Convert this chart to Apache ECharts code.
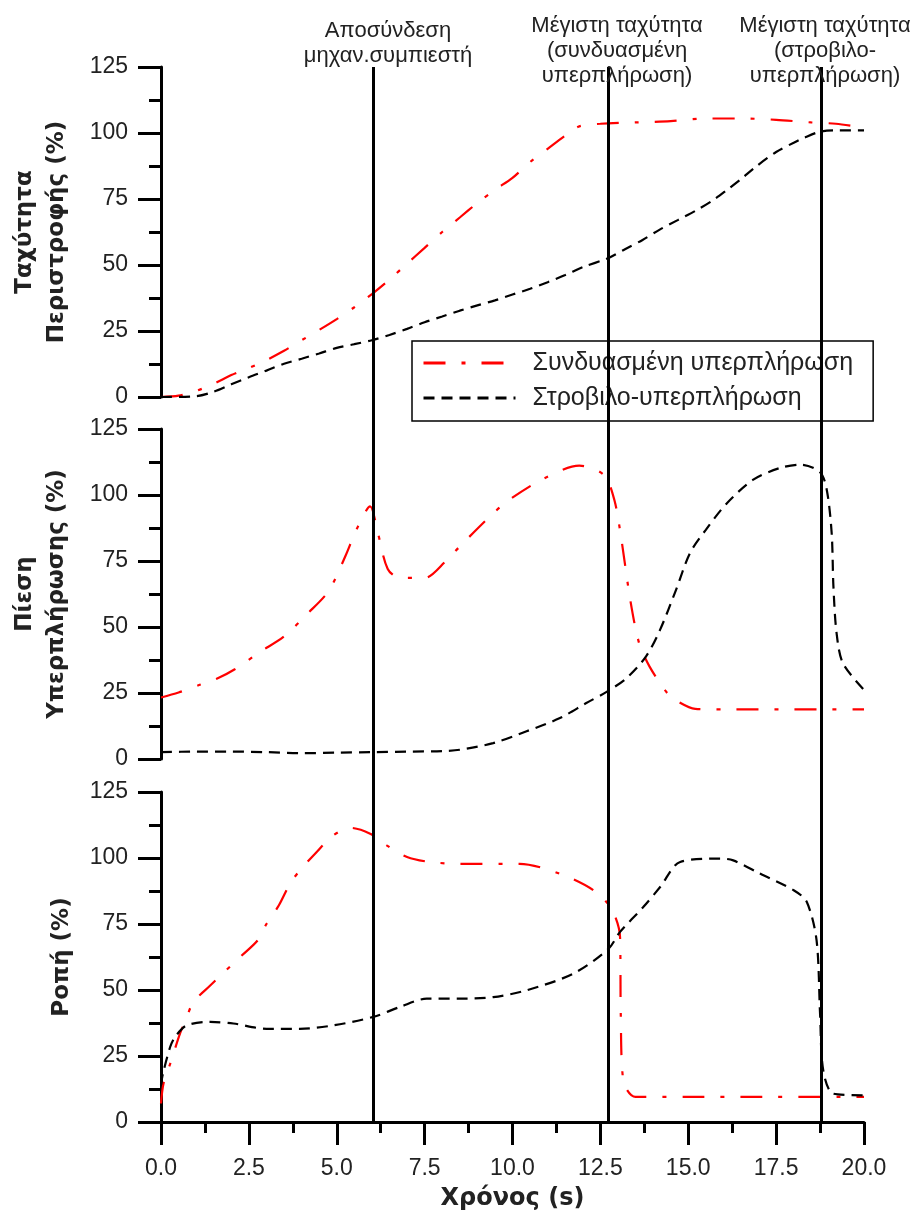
<!DOCTYPE html>
<html>
<head>
<meta charset="utf-8">
<script src="https://cdn.jsdelivr.net/npm/echarts@6/dist/echarts.min.js"></script>
<style>html,body{margin:0;padding:0;background:#fff;}#c{width:918px;height:1214px;}</style>
</head>
<body>
<div id="c"></div>
<script>
// ---- data (time in s, value in %) ----
const xTicks = [0, 2.5, 5, 7.5, 10, 12.5, 15, 17.5, 20];
const yTicks = [0, 25, 50, 75, 100, 125];
const seriesNames = ['Συνδυασμένη υπερπλήρωση', 'Στροβιλο-υπερπλήρωση'];
const panelTitles = ['Ταχύτητα\nΠεριστροφής (%)', 'Πίεση\nΥπερπλήρωσης (%)', 'Ροπή (%)'];
const xTitle = 'Χρόνος (s)';
const eventTimes = [6.03, 12.72, 18.77];
const eventLabels = ['Αποσύνδεση\nμηχαν.συμπιεστή', 'Μέγιστη ταχύτητα\n(συνδυασμένη\nυπερπλήρωση)', 'Μέγιστη ταχύτητα\n(στροβιλο-\nυπερπλήρωση)'];

const speedCombined = [[0,0],[0.5,0.5],[1,2.3],[1.5,5],[2,8.3],[2.5,11],[3,14],[3.5,17.5],[4,21.5],[4.5,25.4],[5,29.5],[5.5,34],[6,39],[6.5,44.5],[7,50.5],[7.5,56.5],[8,62.5],[8.5,68],[9,73.5],[9.5,78.5],[10,83],[10.5,89],[11,94],[11.5,99],[11.9,102.5],[12.5,103.5],[13.5,104],[14.5,104.5],[15.5,105.5],[16.5,105.5],[17.5,105],[18.5,104],[19.2,103.5],[20,102]];
const speedTurbo = [[0,0],[1,0.3],[1.5,2],[2,4.8],[2.5,7.5],[3,10],[3.5,12.6],[4,14.5],[4.5,16.5],[5,18.6],[5.5,20],[6,21.5],[6.5,23.5],[7,25.8],[7.5,28.3],[8,30.5],[8.5,32.7],[9,34.7],[9.5,36.6],[10,38.8],[10.5,41],[11,43.5],[11.5,46.2],[12,49.2],[12.7,52.5],[13.2,56],[13.7,59.5],[14.2,63.5],[14.7,67],[15.2,70.5],[15.7,74.5],[16.1,78.4],[16.5,82.5],[16.9,87],[17.5,92.8],[18,96.3],[18.3,98.2],[18.75,100.5],[19.2,101],[20,101]];

const pressureCombined = [[0,23.3],[0.5,25.2],[1.1,28.1],[1.6,30.5],[2.1,34],[2.8,40.4],[3.5,46.4],[4.2,55.5],[4.65,61.6],[4.9,66.7],[5.25,77],[5.6,88],[5.95,95.7],[6.15,86.8],[6.45,72],[6.8,68.6],[7.5,68.6],[8.1,74.9],[8.5,80.5],[9.4,92.4],[9.9,98.1],[10.9,106.3],[11.9,111.1],[12.6,107.6],[12.9,98],[13.1,83],[13.35,60.3],[13.6,44],[13.9,35],[14.4,25],[14.7,21.8],[15.2,19],[16,18.8],[17,18.8],[18,18.8],[19,18.8],[20,18.8]];
const pressureTurbo = [[0,2.6],[1,2.8],[2,2.8],[3,2.6],[3.95,2.2],[5,2.4],[6,2.6],[7,2.8],[8,3],[8.5,3.5],[9.45,6],[10.4,10.5],[11.35,15.5],[12.1,21.2],[12.7,25.6],[13.25,30.7],[13.8,38.9],[14.2,49],[14.65,64],[15.05,78],[15.5,86.8],[16.1,96.9],[16.85,105.8],[17.6,110.2],[18.2,111.5],[18.75,108.6],[18.94,102],[19.08,85.6],[19.13,65.4],[19.22,47.7],[19.4,36.3],[20,26.2]];

const torqueCombined = [[0,7],[0.07,14.5],[0.26,22],[0.54,33.5],[0.7,38.5],[0.92,45.4],[1.4,51.7],[1.8,56.8],[2.25,62.5],[2.75,68.8],[3.0,75],[3.35,82],[3.67,90.3],[3.95,95.3],[4.43,102.3],[4.9,108.6],[5.4,111.4],[5.95,109.2],[6.42,104.8],[7,100.4],[7.65,98.5],[8.5,97.8],[10.2,97.8],[11.35,94],[12.3,87.8],[12.82,80.7],[13.06,70],[13.08,41],[13.15,15.8],[13.5,9.5],[15,9.5],[17,9.5],[20,9.5]];
const torqueTurbo = [[0,14],[0.05,18],[0.26,28.4],[0.4,32.2],[0.73,36.6],[1.4,37.9],[2.06,37.3],[3,35.3],[3.95,35.3],[4.9,36.6],[6.04,39.8],[6.8,43.6],[7.56,46.7],[8.5,46.7],[9.45,47.3],[10.4,49.9],[11.73,56.2],[12.73,65.6],[13.06,72],[13.72,81.4],[14.2,89],[14.77,98.5],[15.9,99.8],[16.28,99.1],[17.04,94.1],[18,87.8],[18.37,83.4],[18.65,68.9],[18.75,41],[18.84,19.6],[19.13,10.7],[20,10.1]];

// ---- chart ----
const FONT = '"Liberation Sans", Arial, sans-serif';
const BOLD = '"DejaVu Sans", "Liberation Sans", sans-serif';
const TXT = '#222';
const chart = echarts.init(document.getElementById('c'), null, {renderer: 'canvas'});

const grids = [
  {left: 161, top: 67, width: 703, height: 330},
  {left: 161, top: 429, width: 703, height: 330},
  {left: 161, top: 792, width: 703, height: 330},
  {left: 161, top: 67, width: 703, height: 1055}
];

const xMin = xTicks[0], xMax = xTicks[xTicks.length - 1], xStep = xTicks[1] - xTicks[0];
const yMin = yTicks[0], yMax = yTicks[yTicks.length - 1], yStep = yTicks[1] - yTicks[0];

const xAxes = [0, 1, 2, 3].map(i => {
  const shown = i === 2;
  return {
    gridIndex: i, type: 'value', min: xMin, max: xMax, interval: xStep,
    show: i !== 3,
    axisLine: {show: shown, onZero: false, lineStyle: {color: '#000', width: 3}},
    axisTick: {show: shown, length: 23, inside: false, lineStyle: {color: '#000', width: 3}},
    minorTick: {show: shown, splitNumber: 2, length: 11, lineStyle: {color: '#000', width: 3}},
    axisLabel: {show: shown, fontSize: 23, fontFamily: FONT, color: TXT, margin: 35,
      formatter: v => v.toFixed(1)},
    splitLine: {show: false},
    name: shown ? xTitle : '',
    nameLocation: 'middle', nameGap: 65,
    nameTextStyle: {fontSize: 24, fontWeight: 'bold', fontFamily: BOLD, color: TXT}
  };
});

const yAxes = [0, 1, 2, 3].map(i => {
  if (i === 3) return {gridIndex: 3, type: 'value', min: 0, max: 1, show: false};
  return {
    gridIndex: i, type: 'value', min: yMin, max: yMax, interval: yStep,
    axisLine: {show: true, lineStyle: {color: '#000', width: 3}},
    axisTick: {show: true, length: 23, inside: false, lineStyle: {color: '#000', width: 3}},
    minorTick: {show: true, splitNumber: 2, length: 12, lineStyle: {color: '#000', width: 3}},
    axisLabel: {fontSize: 23, fontFamily: FONT, color: TXT, margin: 33},
    splitLine: {show: false}
  };
});

const redStyle = {color: '#ff0000', width: 2.2, type: [22, 16, 4, 16], cap: 'butt'};
const blackStyle = {color: '#000', width: 2.2, type: [11, 7], cap: 'butt'};

function mk(name, data, idx, style) {
  return {
    name: name, type: 'line', xAxisIndex: idx, yAxisIndex: idx, data: data,
    showSymbol: false, symbol: 'none', smooth: 0.3,
    lineStyle: style, itemStyle: {color: style.color}, z: 3, silent: true, animation: false
  };
}

const series = [
  mk(seriesNames[0], speedCombined, 0, redStyle),
  mk(seriesNames[1], speedTurbo, 0, blackStyle),
  mk(seriesNames[0], pressureCombined, 1, redStyle),
  mk(seriesNames[1], pressureTurbo, 1, blackStyle),
  mk(seriesNames[0], torqueCombined, 2, redStyle),
  mk(seriesNames[1], torqueTurbo, 2, blackStyle),
  {
    type: 'line', xAxisIndex: 3, yAxisIndex: 3, data: [], silent: true, animation: false, z: 5,
    markLine: {
      symbol: 'none', silent: true, animation: false,
      lineStyle: {color: '#000', width: 3, type: 'solid'},
      label: {show: false},
      data: eventTimes.map(t => ({xAxis: t}))
    }
  }
];

const annX = [388, 617, 825];
const annTop = [18, 13, 13];
const graphic = eventLabels.map((txt, i) => ({
  type: 'text', x: annX[i], y: annTop[i], z: 10,
  style: {text: txt, fill: TXT, font: '22px ' + FONT, textAlign: 'center', lineHeight: 25}
}));

// rotated y-axis titles, centred on each panel
const titleX = [41, 41, 62];
panelTitles.forEach((txt, i) => {
  const g = grids[i];
  graphic.push({
    type: 'text', x: titleX[i], y: g.top + g.height / 2, rotation: Math.PI / 2, z: 10,
    style: {text: txt, fill: TXT, font: 'bold 23px ' + BOLD, textAlign: 'center',
      textVerticalAlign: 'middle', verticalAlign: 'middle', lineHeight: 32}
  });
});

chart.setOption({
  animation: false,
  backgroundColor: '#fff',
  grid: grids,
  xAxis: xAxes,
  yAxis: yAxes,
  legend: {
    data: seriesNames, orient: 'vertical', left: 412, top: 341,
    borderColor: '#000', borderWidth: 1.5, padding: [8, 20, 9, 10],
    itemWidth: 92, itemHeight: 14, itemGap: 7,
    itemStyle: {color: 'rgba(0,0,0,0)', borderWidth: 0, opacity: 0},
    lineStyle: {width: 3},
    textStyle: {fontSize: 25, fontFamily: FONT, color: TXT, lineHeight: 28, padding: [0, 0, 0, 12]},
    selectedMode: false
  },
  graphic: graphic,
  series: series
});
</script>
</body>
</html>
